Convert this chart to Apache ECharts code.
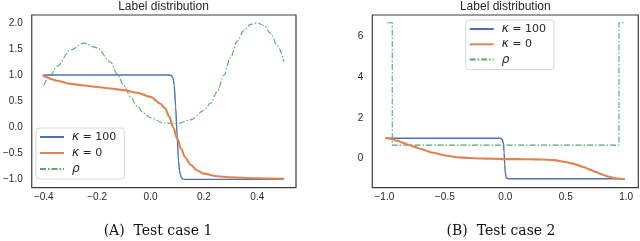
<!DOCTYPE html>
<html><head><meta charset="utf-8">
<script src="https://cdn.jsdelivr.net/npm/echarts@6/dist/echarts.min.js"></script>
<style>html,body{margin:0;padding:0;background:#fff}#c{width:640px;height:241px}</style>
</head><body><div id="c"></div>
<script>
// ---- Test case 1 ----
const kappa100X_1 = [-0.4, 0.07, 0.078, 0.084, 0.089, 0.094, 0.1, 0.105, 0.109, 0.114, 0.12, 0.13, 0.5];
const kappa100Y_1 = [1, 1, 0.99, 0.95, 0.8, 0.4, -0.2, -0.65, -0.85, -0.95, -0.99, -1, -1];
const kappa0X_1 = [-0.405, -0.39, -0.37, -0.35, -0.3, -0.25, -0.2, -0.15, -0.1, -0.05, 0.0, 0.0375, 0.055, 0.07, 0.085, 0.1, 0.115, 0.13, 0.15, 0.175, 0.2, 0.25, 0.3, 0.4, 0.5];
const kappa0Y_1 = [1.0, 0.96, 0.92, 0.89, 0.83, 0.8, 0.77, 0.74, 0.71, 0.66, 0.58, 0.45, 0.36, 0.2, 0.0, -0.22, -0.42, -0.58, -0.72, -0.83, -0.89, -0.94, -0.96, -0.98, -0.99];
const rhoX_1 = [-0.4, -0.375, -0.35, -0.3, -0.25, -0.2, -0.15, -0.125, -0.1, -0.075, -0.05, -0.025, 0.0, 0.05, 0.1, 0.15, 0.2, 0.225, 0.25, 0.275, 0.3, 0.325, 0.35, 0.375, 0.4, 0.425, 0.45, 0.475, 0.5];
const rhoY_1 = [0.8, 1.0, 1.17, 1.48, 1.61, 1.52, 1.25, 1.02, 0.8, 0.58, 0.4, 0.27, 0.18, 0.08, 0.07, 0.14, 0.32, 0.46, 0.68, 1.0, 1.34, 1.65, 1.86, 1.97, 2.0, 1.95, 1.8, 1.56, 1.25];
const xTicks_1 = [-0.4, -0.2, 0.0, 0.2, 0.4];
const yTicks_1 = [-1.0, -0.5, 0.0, 0.5, 1.0, 1.5, 2.0];

// ---- Test case 2 ----
const kappa100X_2 = [-0.99, -0.04, -0.025, -0.015, -0.01, -0.005, 0.0, 0.008, 0.02, 0.95];
const kappa100Y_2 = [1.0, 1.0, 0.95, 0.7, 0.3, -0.3, -0.7, -0.95, -1.0, -1.0];
const kappa0X_2 = [-0.99, -0.95, -0.9, -0.85, -0.8, -0.75, -0.7, -0.6, -0.5, -0.4, -0.3, -0.2, -0.1, 0.0, 0.1, 0.2, 0.3, 0.4, 0.5, 0.55, 0.6, 0.65, 0.7, 0.75, 0.8, 0.85, 0.9, 0.95, 0.99];
const kappa0Y_2 = [1.0, 0.98, 0.88, 0.78, 0.68, 0.57, 0.47, 0.28, 0.15, 0.06, 0.02, 0.0, -0.01, -0.03, -0.03, -0.04, -0.05, -0.08, -0.17, -0.24, -0.33, -0.43, -0.55, -0.67, -0.79, -0.89, -0.97, -1.0, -1.02];
const rhoX_2 = [-0.975, -0.935, -0.935, 0.94, 0.94, 0.98];
const rhoY_2 = [6.69, 6.69, 0.66, 0.66, 6.69, 6.69];
const xTicks_2 = [-1.0, -0.5, 0.0, 0.5, 1.0];
const yTicks_2 = [0, 2, 4, 6];

const names = ['{i|κ} = 100', '{i|κ} = 0', '{i|ρ}'];
const titles = ['Label distribution', 'Label distribution'];
const captions = ['(A)  Test case 1', '(B)  Test case 2'];

const zip = (xs, ys) => xs.map((x, i) => [x, ys[i]]);
const fmt = d => v => { const s = Math.abs(v).toFixed(d); return (v < -1e-9 ? '\u2212' : '') + s; };

const C_BLUE = '#4c72b0', C_ORANGE = '#dd8452', C_GREEN = '#55a868';
const tickFont = {fontFamily: 'Liberation Sans', fontSize: 10, color: '#262626'};

function xAxis(gi, min, max, ticks, d) {
  return {type: 'value', gridIndex: gi, min, max, axisLine: {show: false}, axisTick: {show: false}, splitLine: {show: false},
    axisLabel: Object.assign({customValues: ticks, formatter: fmt(d), margin: 5}, tickFont)};
}
function yAxis(gi, min, max, ticks, d) {
  return {type: 'value', gridIndex: gi, min, max, axisLine: {show: false}, axisTick: {show: false}, splitLine: {show: false},
    axisLabel: Object.assign({customValues: ticks, formatter: fmt(d), margin: 9}, tickFont)};
}
function line(name, gi, data, color, width, type, smooth) {
  return {name, type: 'line', xAxisIndex: gi, yAxisIndex: gi, data, symbol: 'none', showSymbol: false,
    smooth: smooth, smoothMonotone: 'x', lineStyle: {color, width, type}, itemStyle: {color}, z: name === names[2] ? 1 : 2, animation: false};
}
const dash = [6, 2, 1.5, 2];
function legend(left, top, gap, pad) {
  return {left, top, orient: 'vertical', data: names, itemWidth: 24, itemHeight: 13, itemGap: gap,
    itemStyle: {opacity: 0, borderWidth: 0},
    padding: pad, borderColor: '#d8d8d8', borderWidth: 1, borderRadius: 3, backgroundColor: 'rgba(255,255,255,0.8)',
    textStyle: {fontFamily: 'DejaVu Sans', fontSize: 11, color: '#262626', padding: [0, 0, 0, 3],
      rich: {i: {fontStyle: 'italic', fontFamily: 'DejaVu Sans', fontSize: 12, color: '#262626'}}}};
}
const titleStyle = {fontFamily: 'Liberation Sans', fontSize: 12, fontWeight: 'normal', color: '#262626'};
const capStyle = {fontFamily: 'DejaVu Serif', fontSize: 14, fontWeight: 'normal', color: '#111'};

const option = {
  animation: false,
  backgroundColor: '#fff',
  title: [
    {text: titles[0], left: 163.5, top: 1, textAlign: 'center', padding: 0, textStyle: titleStyle},
    {text: titles[1], left: 505.3, top: 1, textAlign: 'center', padding: 0, textStyle: titleStyle},
    {text: captions[0], left: 158, top: 224, textAlign: 'center', padding: 0, textStyle: capStyle},
    {text: captions[1], left: 501, top: 224, textAlign: 'center', padding: 0, textStyle: capStyle}
  ],
  grid: [
    {left: 31, top: 15, width: 265, height: 172.7, show: true, borderColor: '#3d3d3d', borderWidth: 1.2, containLabel: false},
    {left: 372.3, top: 15, width: 266, height: 172.7, show: true, borderColor: '#3d3d3d', borderWidth: 1.2, containLabel: false}
  ],
  xAxis: [xAxis(0, -0.445, 0.545, xTicks_1, 1), xAxis(1, -1.1, 1.1, xTicks_2, 1)],
  yAxis: [yAxis(0, -1.16, 2.15, yTicks_1, 1), yAxis(1, -1.44, 7.07, yTicks_2, 0)],
  legend: [legend(36, 128, 4, [3, 8, 4, 3]), legend(465.7, 20, 3.3, [3, 8, 4, 3])],
  series: [
    line(names[0], 0, zip(kappa100X_1, kappa100Y_1), C_BLUE, 1.4, 'solid', 0.2),
    line(names[1], 0, zip(kappa0X_1, kappa0Y_1), C_ORANGE, 2.1, 'solid', 0.3),
    line(names[2], 0, zip(rhoX_1, rhoY_1), C_GREEN, 1.1, dash, 0.35),
    line(names[0], 1, zip(kappa100X_2, kappa100Y_2), C_BLUE, 1.4, 'solid', 0.2),
    line(names[1], 1, zip(kappa0X_2, kappa0Y_2), C_ORANGE, 2.1, 'solid', 0.3),
    line(names[2], 1, zip(rhoX_2, rhoY_2), C_GREEN, 1.1, dash, false)
  ]
};
const chart = echarts.init(document.getElementById('c'), null, {renderer: 'canvas'});
chart.setOption(option);
</script></body></html>
